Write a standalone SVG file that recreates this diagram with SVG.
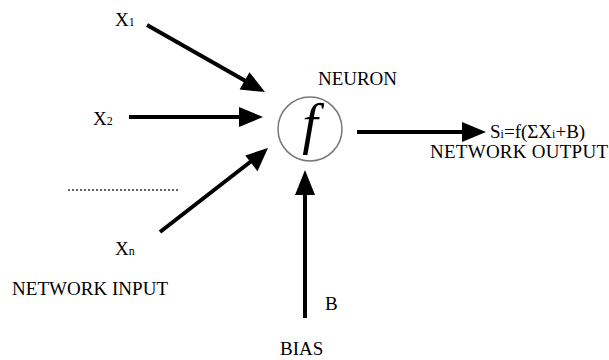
<svg xmlns="http://www.w3.org/2000/svg" width="609" height="360" viewBox="0 0 609 360">
<rect width="609" height="360" fill="#ffffff"/>
<g id="connectors" stroke="#000" stroke-width="4" fill="#000">
<line x1="147" y1="25" x2="250" y2="83.5"/>
<polygon stroke="none" points="265,92 239.6,89.6 249.5,72.2"/>
<line x1="129" y1="117" x2="245" y2="117"/>
<polygon stroke="none" points="263,117 239,107 239,127"/>
<line x1="160" y1="232" x2="254" y2="159"/>
<polygon stroke="none" points="268,148 257.5,171.2 245.3,155.4"/>
<line x1="305" y1="318" x2="305" y2="190"/>
<polygon stroke="none" points="305,170 295,195 315,195"/>
<line x1="357" y1="132" x2="470" y2="132"/>
<polygon stroke="none" points="486,132 462,122 462,142"/>
<line x1="68" y1="190" x2="180" y2="190" stroke="#333" stroke-width="1.5" stroke-dasharray="2,2"/>
</g>
<g id="node-neuron">
<circle cx="310" cy="129" r="32" fill="#fff" stroke="#777" stroke-width="1.5"/>
<text x="310" y="143" text-anchor="middle" font-family="serif" font-size="56" font-style="italic">f</text>
<text x="318" y="85" font-family="serif" font-size="19" textLength="79">NEURON</text>
</g>
<g id="node-input1"><text x="115" y="26" font-family="serif" font-size="19">X<tspan font-size="12">1</tspan></text></g>
<g id="node-input2"><text x="93" y="125" font-family="serif" font-size="19">X<tspan font-size="12">2</tspan></text></g>
<g id="node-inputn"><text x="115" y="255" font-family="serif" font-size="19">X<tspan font-size="12">n</tspan></text></g>
<g id="label-network-input"><text x="12" y="295" font-family="serif" font-size="19" textLength="156">NETWORK INPUT</text></g>
<g id="node-bias">
<text x="325" y="310" font-family="serif" font-size="19">B</text>
<text x="280" y="355" font-family="serif" font-size="19">BIAS</text>
</g>
<g id="node-output">
<text x="490" y="138" font-family="serif" font-size="19">S<tspan font-size="12">i</tspan>=f(&#931;X<tspan font-size="12">i</tspan>+B)</text>
<text x="430" y="158" font-family="serif" font-size="19" textLength="178">NETWORK OUTPUT</text>
</g>
</svg>
